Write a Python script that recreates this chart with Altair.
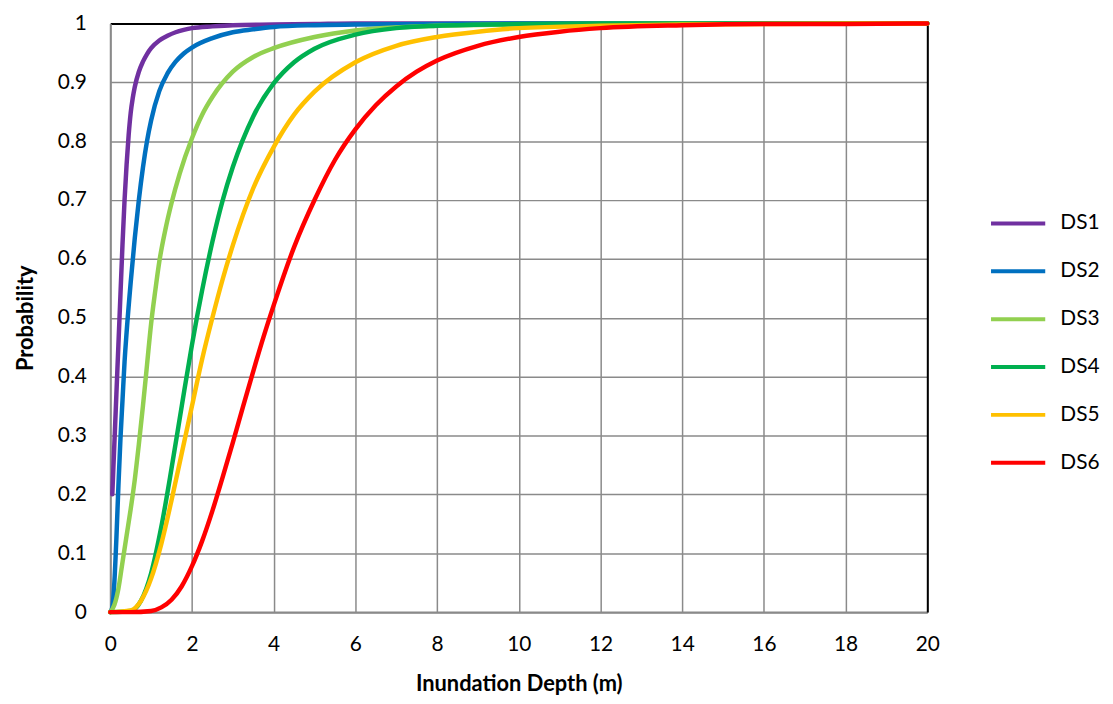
import altair as alt
import pandas as pd

series_names = ["DS1", "DS2", "DS3", "DS4", "DS5", "DS6"]
series_colors = ["#7030A0", "#0070C0", "#92D050", "#00B050", "#FFC000", "#FF0000"]

x_ticks = [0, 2, 4, 6, 8, 10, 12, 14, 16, 18, 20]
y_ticks = [0, 0.1, 0.2, 0.3, 0.4, 0.5, 0.6, 0.7, 0.8, 0.9, 1]

ds1_x = [0.05, 0.1, 0.15, 0.2, 0.25, 0.3, 0.35, 0.4, 0.45, 0.5, 0.55, 0.6, 0.7, 0.8, 0.9, 1.0, 1.2, 1.4, 1.6, 1.8, 2.0, 2.5, 3, 4, 5, 6, 8, 10, 15, 20]
ds1_y = [0.2, 0.285, 0.37, 0.455, 0.54, 0.625, 0.7, 0.76, 0.81, 0.848, 0.873, 0.892, 0.918, 0.935, 0.948, 0.958, 0.971, 0.979, 0.985, 0.989, 0.992, 0.995, 0.997, 0.998, 0.999, 1, 1, 1, 1, 1]

ds2_x = [0, 0.05, 0.1, 0.15, 0.2, 0.25, 0.3, 0.35, 0.4, 0.5, 0.6, 0.7, 0.8, 0.9, 1.0, 1.2, 1.4, 1.6, 1.8, 2.0, 2.5, 3.0, 3.5, 4.0, 5.0, 6.0, 8.0, 10, 20]
ds2_y = [0, 0.008, 0.05, 0.125, 0.215, 0.295, 0.36, 0.425, 0.475, 0.56, 0.635, 0.7, 0.755, 0.8, 0.835, 0.885, 0.915, 0.935, 0.949, 0.959, 0.975, 0.985, 0.99, 0.994, 0.997, 0.998, 0.999, 1, 1]

ds3_x = [0, 0.1, 0.2, 0.3, 0.4, 0.5, 0.6, 0.7, 0.8, 0.9, 1.0, 1.1, 1.2, 1.35, 1.5, 1.7, 2.0, 2.25, 2.5, 3.0, 3.5, 4.0, 5.0, 6.0, 8.0, 10, 14, 20]
ds3_y = [0, 0.012, 0.04, 0.085, 0.13, 0.175, 0.225, 0.285, 0.35, 0.42, 0.49, 0.545, 0.595, 0.65, 0.695, 0.745, 0.805, 0.845, 0.875, 0.918, 0.943, 0.958, 0.977, 0.988, 0.996, 0.998, 1, 1]

ds4_x = [0, 0.5, 0.75, 1.0, 1.25, 1.5, 1.75, 2.0, 2.25, 2.5, 2.75, 3.0, 3.5, 4.0, 4.5, 5.0, 6.0, 7.0, 8.0, 10, 12, 20]
ds4_y = [0, 0.002, 0.019, 0.066, 0.145, 0.244, 0.35, 0.454, 0.547, 0.629, 0.699, 0.756, 0.842, 0.898, 0.934, 0.957, 0.981, 0.992, 0.996, 0.999, 1, 1]

ds5_x = [0, 0.5, 0.75, 1.0, 1.25, 1.5, 1.75, 2.0, 2.25, 2.5, 2.75, 3.0, 3.5, 4.0, 4.5, 5.0, 6.0, 7.0, 8.0, 9.0, 10, 12, 14, 16, 20]
ds5_y = [0, 0.003, 0.019, 0.057, 0.116, 0.19, 0.27, 0.35, 0.43, 0.5, 0.565, 0.623, 0.72, 0.79, 0.845, 0.884, 0.934, 0.962, 0.977, 0.986, 0.992, 0.996, 0.998, 0.999, 1]

ds6_x = [0, 0.5, 1.0, 1.25, 1.5, 1.75, 2.0, 2.25, 2.5, 2.75, 3.0, 3.25, 3.5, 3.75, 4.0, 4.5, 5.0, 5.5, 6.0, 6.5, 7.0, 7.5, 8.0, 9.0, 10, 11, 12, 14, 16, 18, 20]
ds6_y = [0, 0, 0.002, 0.008, 0.021, 0.044, 0.078, 0.121, 0.172, 0.229, 0.288, 0.349, 0.409, 0.467, 0.521, 0.62, 0.70, 0.768, 0.82, 0.861, 0.893, 0.918, 0.937, 0.962, 0.977, 0.986, 0.992, 0.997, 0.999, 0.999, 1]

xs = [ds1_x, ds2_x, ds3_x, ds4_x, ds5_x, ds6_x]
ys = [ds1_y, ds2_y, ds3_y, ds4_y, ds5_y, ds6_y]

rows = []
for name, sx, sy in zip(series_names, xs, ys):
    for a, b in zip(sx, sy):
        rows.append({"depth": a, "prob": b, "series": name})
df = pd.DataFrame(rows)

FONT = "Lato"
GRID = "#8a8a8a"

x_scale = alt.Scale(domain=[0, 20], nice=False, zero=True)
y_scale = alt.Scale(domain=[0, 1], nice=False)

lines = alt.Chart(df).mark_line(strokeWidth=4.5, interpolate="monotone", strokeJoin="round", strokeCap="round").encode(
    x=alt.X("depth:Q", scale=x_scale,
            axis=alt.Axis(values=x_ticks, format="d", title="Inundation Depth (m)",
                          ticks=False, grid=True, gridColor=GRID, gridWidth=1.5,
                          domainColor=GRID, domainWidth=2.5, labelFlush=False,
                          labelFont=FONT, labelFontSize=21, labelColor="black", labelPadding=22,
                          titleFont=FONT, titleFontSize=22, titleFontWeight="bold", titleColor="black",
                          titlePadding=19)),
    y=alt.Y("prob:Q", scale=y_scale,
            axis=alt.Axis(values=y_ticks, format="~g", title="Probability",
                          ticks=False, grid=True, gridColor=GRID, gridWidth=1.5,
                          domainColor=GRID, domainWidth=2, labelFlush=False,
                          labelFont=FONT, labelFontSize=21, labelColor="black", labelPadding=24,
                          titleFont=FONT, titleFontSize=22, titleFontWeight="bold", titleColor="black",
                          titlePadding=20)),
    color=alt.Color("series:N", scale=alt.Scale(domain=series_names, range=series_colors),
                    legend=alt.Legend(title=None, orient="none", legendX=902, legendY=189,
                                      symbolType="M-2.6,0L2.6,0", symbolSize=441, symbolStrokeWidth=4,
                                      labelFont=FONT, labelFontSize=21, labelColor="black",
                                      labelOffset=30, rowPadding=25.2)),
)

frame = alt.Chart(df).mark_line(opacity=0).encode(
    x=alt.X("depth:Q", scale=x_scale,
            axis=alt.Axis(orient="top", labels=False, ticks=False, grid=False, title=None,
                          domainColor="black", domainWidth=2)),
    y=alt.Y("prob:Q", scale=y_scale,
            axis=alt.Axis(orient="right", labels=False, ticks=False, grid=False, title=None,
                          domainColor="black", domainWidth=2)),
)

chart = alt.layer(lines, frame).resolve_axis(x="independent", y="independent").properties(
    width=823, height=593,
    padding={"left": 6, "top": 2, "right": 5, "bottom": 5},
).configure_view(stroke=None)

chart.save("out.html", embed_options={"renderer": "svg", "actions": False})
